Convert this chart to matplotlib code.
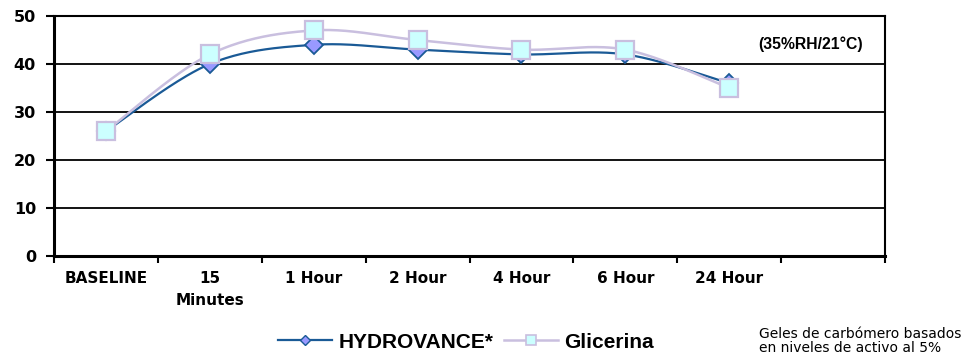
import numpy as np
import matplotlib
matplotlib.use("Agg")
import matplotlib.pyplot as plt
from matplotlib.lines import Line2D

categories = ["BASELINE", "15\nMinutes", "1 Hour", "2 Hour", "4 Hour", "6 Hour", "24 Hour", ""]
hydrovance = [26, 40, 44, 43, 42, 42, 36]
glicerina = [26, 42, 47, 45, 43, 43, 35]
y_ticks = [0, 10, 20, 30, 40, 50]

blue = "#1a5a96"
blue_fill = "#9999ff"
lav = "#c9bfdf"
sq_fill = "#ccffff"


def smooth(xs, ys, n=40):
    # excel style smoothed line: bezier segments, control points from neighbours
    x = np.asarray(xs, float)
    y = np.asarray(ys, float)
    px = np.concatenate([[x[0]], x, [x[-1]]])
    py = np.concatenate([[y[0]], y, [y[-1]]])
    t = np.linspace(0, 1, n)[:, None]
    out = []
    for i in range(1, len(px) - 2):
        p0 = np.array([px[i], py[i]])
        p3 = np.array([px[i + 1], py[i + 1]])
        p1 = p0 + (p3 - np.array([px[i - 1], py[i - 1]])) / 6
        p2 = p3 - (np.array([px[i + 2], py[i + 2]]) - p0) / 6
        seg = (1 - t) ** 3 * p0 + 3 * (1 - t) ** 2 * t * p1 + 3 * (1 - t) * t ** 2 * p2 + t ** 3 * p3
        out.append(seg if i == 1 else seg[1:])
    s = np.vstack(out)
    return s[:, 0], s[:, 1]


fig = plt.figure(figsize=(9.69, 3.6), dpi=100)
ax = fig.add_axes([54 / 969, 1 - 256 / 360, (885 - 54) / 969, 240 / 360])

xpos = np.arange(len(hydrovance))

sx, sy = smooth(xpos, hydrovance)
ax.plot(sx, sy, color=blue, lw=1.6, zorder=3)
ax.plot(xpos, hydrovance, ls="none", marker="D", ms=9.5, mfc=blue_fill, mec=blue, mew=1.3, zorder=4)

sx, sy = smooth(xpos, glicerina)
ax.plot(sx, sy, color=lav, lw=1.8, zorder=5)
ax.plot(xpos, glicerina, ls="none", marker="s", ms=12.5, mfc=sq_fill, mec=lav, mew=1.6, zorder=6)

ax.set_xlim(-0.5, len(categories) - 0.5)
ax.set_ylim(0, 50)
ax.set_yticks(y_ticks)
for v in y_ticks[1:-1]:
    ax.axhline(v, color="black", lw=1.3, zorder=1)

ax.set_xticks(np.arange(len(categories)))
ax.set_xticklabels(categories, fontfamily="DejaVu Sans", fontweight="bold", fontsize=11, linespacing=1.55)
ax.set_xticks(np.arange(len(categories) + 1) - 0.5, minor=True)
ax.tick_params(axis="x", which="major", length=0, pad=11)
ax.tick_params(axis="x", which="minor", length=5, width=1.5, direction="out")
ax.tick_params(axis="y", length=6, width=1.5, direction="out", pad=7)
for lab in ax.get_yticklabels():
    lab.set_fontfamily("DejaVu Sans")
    lab.set_fontweight("bold")
    lab.set_fontsize(11.5)

ax.spines["left"].set_linewidth(2.2)
ax.spines["bottom"].set_linewidth(2.2)
ax.spines["top"].set_linewidth(1.5)
ax.spines["right"].set_linewidth(1.5)
for s in ax.spines.values():
    s.set_color("black")

fig.text(811 / 969, 1 - 44 / 360, "(35%RH/21°C)", ha="center", va="center",
         fontfamily="Liberation Sans", fontweight="bold", fontsize=11.3)

fig.text(759 / 969, 1 - 341 / 360, "Geles de carbómero basados\nen niveles de activo al 5%",
         ha="left", va="center", fontfamily="DejaVu Sans", fontsize=10, linespacing=1.0)

handles = [
    Line2D([], [], color=blue, lw=1.6, marker="D", ms=5.6, mfc=blue_fill, mec=blue, mew=1.0),
    Line2D([], [], color=lav, lw=1.8, marker="s", ms=6.5, mfc=sq_fill, mec=lav, mew=1.2),
]
fig.legend(handles, ["HYDROVANCE*", "Glicerina"], loc="center", bbox_to_anchor=(466 / 969, 1 - 342 / 360),
           ncol=2, frameon=False, handlelength=2.6, handletextpad=0.3, columnspacing=0.5,
           prop={"family": "Liberation Sans", "weight": "bold", "size": 15})

fig.savefig("out.png", dpi=100)
